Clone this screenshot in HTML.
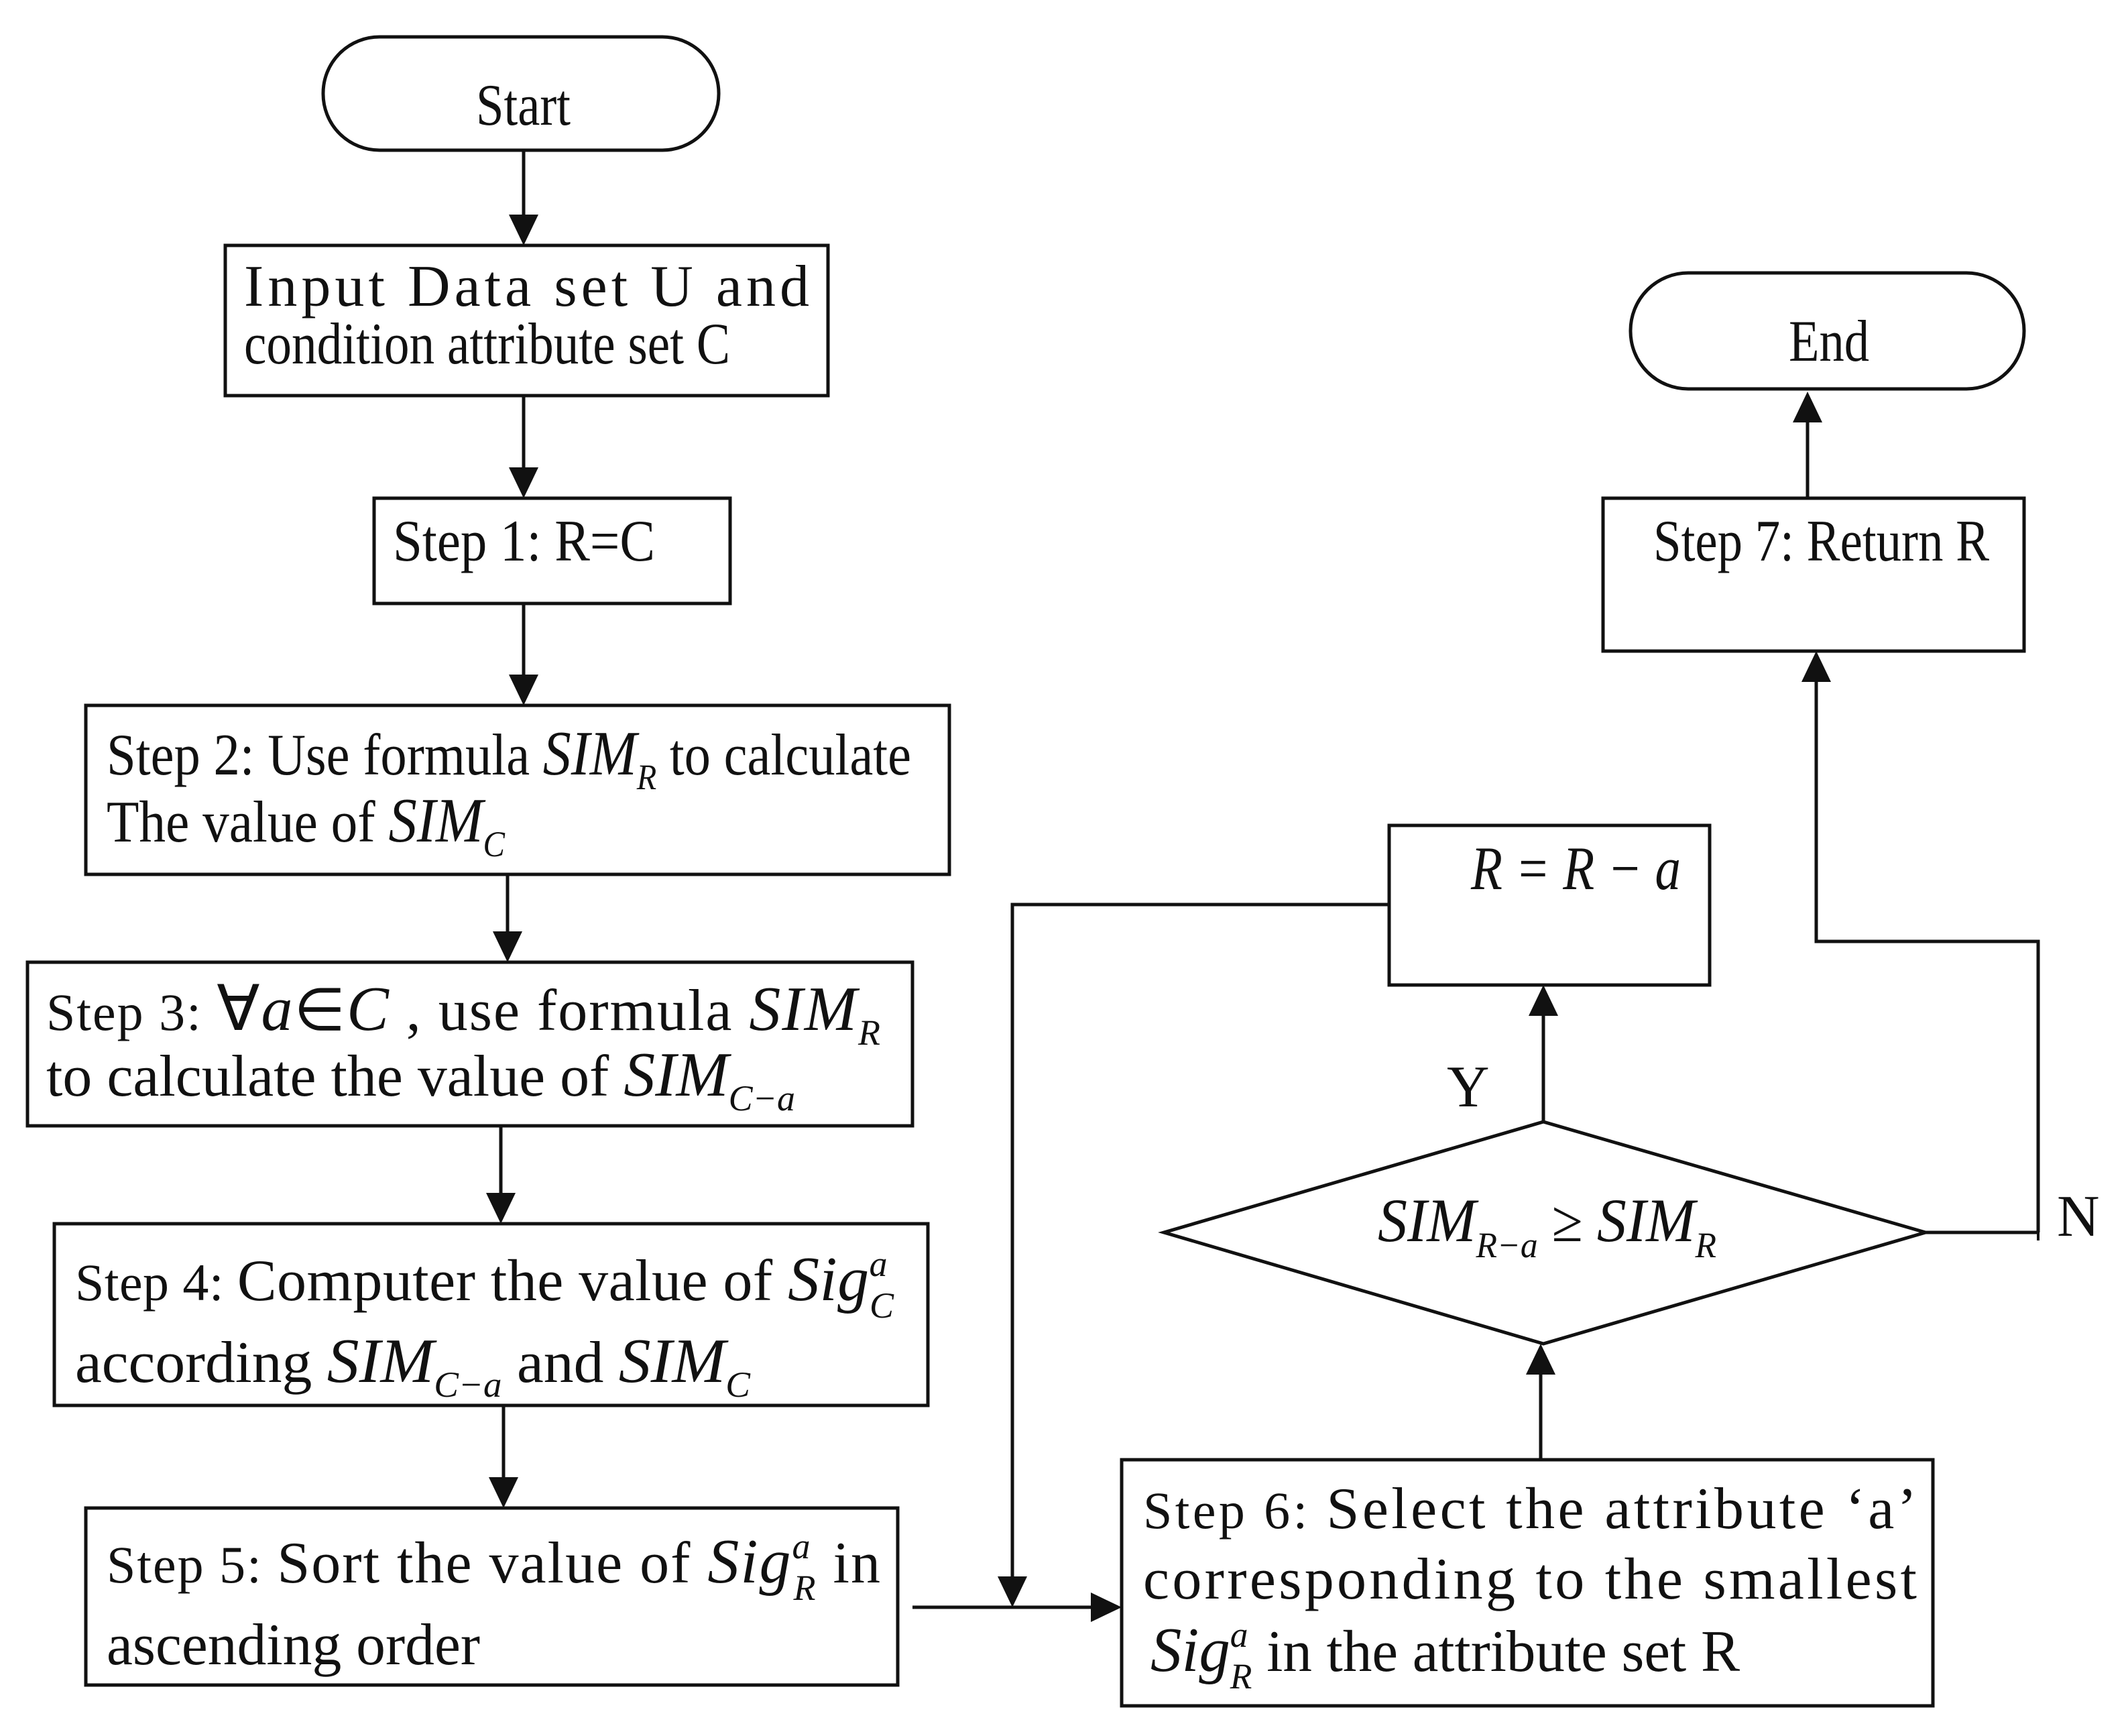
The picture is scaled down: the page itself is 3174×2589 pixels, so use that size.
<!DOCTYPE html>
<html><head><meta charset="utf-8"><style>
html,body{margin:0;padding:0;background:#fff;}
svg{display:block;}
text{font-family:"Liberation Serif",serif;fill:#111;}
.i{font-style:italic;}
</style></head><body>
<svg width="3174" height="2589" viewBox="0 0 3174 2589" xmlns="http://www.w3.org/2000/svg">
<g fill="none" stroke="#111" stroke-width="5">
<rect x="482" y="55" width="590" height="169" rx="84" ry="84"/>
<rect x="336" y="366" width="899" height="224"/>
<rect x="558" y="743" width="531" height="157"/>
<rect x="128" y="1052" width="1288" height="252"/>
<rect x="41" y="1435" width="1320" height="244"/>
<rect x="81" y="1825" width="1303" height="271"/>
<rect x="128" y="2249" width="1211" height="264"/>
<rect x="1673" y="2177" width="1210" height="367"/>
<rect x="2072" y="1231" width="478" height="238"/>
<polygon points="1736,1838 2302,1673 2872,1838 2302,2004"/>
<rect x="2391" y="743" width="628" height="228"/>
<rect x="2432" y="407" width="587" height="173" rx="86" ry="86"/>
<line x1="781" y1="224" x2="781" y2="320"/>
<line x1="781" y1="590" x2="781" y2="697"/>
<line x1="781" y1="900" x2="781" y2="1006"/>
<line x1="757" y1="1304" x2="757" y2="1389"/>
<line x1="747" y1="1679" x2="747" y2="1779"/>
<line x1="751" y1="2096" x2="751" y2="2203"/>
<line x1="1361" y1="2397" x2="1627" y2="2397"/>
<polyline points="2072,1349 1510,1349 1510,2351"/>
<line x1="2298" y1="2177" x2="2298" y2="2050"/>
<line x1="2302" y1="1673" x2="2302" y2="1515"/>
<line x1="2872" y1="1838" x2="3040" y2="1838"/>
<line x1="3040" y1="1850" x2="3040" y2="1825" stroke-width="4"/>
<polyline points="3040,1838 3040,1404 2709,1404 2709,1017"/>
<line x1="2696" y1="743" x2="2696" y2="630"/>
</g>
<g fill="#111">
<polygon points="759,320 803,320 781,366"/>
<polygon points="759,697 803,697 781,743"/>
<polygon points="759,1006 803,1006 781,1052"/>
<polygon points="735,1389 779,1389 757,1435"/>
<polygon points="725,1779 769,1779 747,1825"/>
<polygon points="729,2203 773,2203 751,2249"/>
<polygon points="1627,2375 1627,2419 1673,2397"/>
<polygon points="1488,2351 1532,2351 1510,2397"/>
<polygon points="2276,2050 2320,2050 2298,2004"/>
<polygon points="2280,1515 2324,1515 2302,1469"/>
<polygon points="2687,1017 2731,1017 2709,971"/>
<polygon points="2674,630 2718,630 2696,584"/>
</g>
<g font-size="88">
<text x="710" y="186" textLength="141" lengthAdjust="spacingAndGlyphs">Start</text>
<text x="2668" y="538" textLength="120" lengthAdjust="spacingAndGlyphs">End</text>
<text x="364" y="456" textLength="843" lengthAdjust="spacing">Input Data set U and</text>
<text x="364" y="542" textLength="725" lengthAdjust="spacingAndGlyphs">condition attribute set C</text>
<text x="586" y="836" textLength="391" lengthAdjust="spacingAndGlyphs">Step 1:  R=C</text>
<text x="2466" y="836" textLength="501" lengthAdjust="spacingAndGlyphs">Step 7: Return R</text>
<text x="159" y="1155" textLength="1200" lengthAdjust="spacingAndGlyphs">Step 2: Use formula <tspan class="i" font-size="94">SIM</tspan><tspan class="i" font-size="54" dy="22">R</tspan><tspan dy="-22">  to calculate</tspan></text>
<text x="159" y="1255" textLength="594" lengthAdjust="spacingAndGlyphs">The value of  <tspan class="i" font-size="94">SIM</tspan><tspan class="i" font-size="54" dy="22">C</tspan></text>
<text x="69" y="1536" textLength="1244" lengthAdjust="spacing"><tspan font-size="78">Step 3: </tspan><tspan font-size="94">∀</tspan><tspan class="i" font-size="94">a</tspan><tspan font-size="88">∈</tspan><tspan class="i" font-size="94">C</tspan> , use formula <tspan class="i" font-size="94">SIM</tspan><tspan class="i" font-size="54" dy="22">R</tspan></text>
<text x="69" y="1634" textLength="1117" lengthAdjust="spacingAndGlyphs">to calculate the value of <tspan class="i" font-size="94">SIM</tspan><tspan class="i" font-size="54" dy="22">C−a</tspan></text>
<text x="112" y="1939" textLength="1221" lengthAdjust="spacing"><tspan font-size="78">Step 4: </tspan>Computer the value of <tspan class="i" font-size="94">Sig</tspan><tspan class="i" font-size="54" dy="-36">a</tspan><tspan class="i" font-size="54" dx="-27" dy="62">C</tspan></text>
<text x="112" y="2061" textLength="1007" lengthAdjust="spacingAndGlyphs">according <tspan class="i" font-size="94">SIM</tspan><tspan class="i" font-size="54" dy="22">C−a</tspan><tspan dy="-22"> and </tspan><tspan class="i" font-size="94">SIM</tspan><tspan class="i" font-size="54" dy="22">C</tspan></text>
<text x="159" y="2360" textLength="1154" lengthAdjust="spacing"><tspan font-size="78">Step 5: </tspan>Sort the value of <tspan class="i" font-size="94">Sig</tspan><tspan class="i" font-size="54" dy="-36">a</tspan><tspan class="i" font-size="54" dx="-27" dy="62">R</tspan><tspan dy="-26"> in</tspan></text>
<text x="159" y="2482" textLength="557" lengthAdjust="spacingAndGlyphs">ascending order</text>
<text x="1705" y="2279" textLength="1154" lengthAdjust="spacing"><tspan font-size="78">Step 6: </tspan>Select the attribute ‘a’</text>
<text x="1705" y="2384" textLength="1154" lengthAdjust="spacing">corresponding to the smallest</text>
<text x="1716" y="2492" textLength="879" lengthAdjust="spacingAndGlyphs"><tspan class="i" font-size="94">Sig</tspan><tspan class="i" font-size="54" dy="-36">a</tspan><tspan class="i" font-size="54" dx="-27" dy="62">R</tspan><tspan dy="-26"> in the attribute set R</tspan></text>
<text x="2194" y="1326" class="i" font-size="92" textLength="313" lengthAdjust="spacingAndGlyphs">R = R − a</text>
<text x="2055" y="1851" textLength="505" lengthAdjust="spacingAndGlyphs"><tspan class="i" font-size="92">SIM</tspan><tspan class="i" font-size="54" dy="24">R−a</tspan><tspan dy="-24"> ≥ </tspan><tspan class="i" font-size="92">SIM</tspan><tspan class="i" font-size="54" dy="24">R</tspan></text>
<text x="2158" y="1650" font-size="88">Y</text>
<text x="3068" y="1843" font-size="88">N</text>
</g>
</svg>
</body></html>
